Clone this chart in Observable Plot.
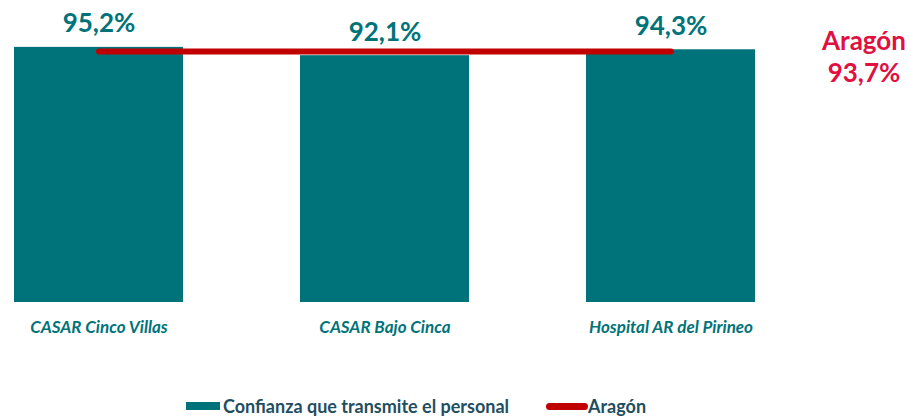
<!DOCTYPE html>
<html>
<head>
<meta charset="utf-8">
<script src="https://cdn.jsdelivr.net/npm/d3@7"></script>
<script src="https://cdn.jsdelivr.net/npm/@observablehq/plot@0.6"></script>
<style>
  html, body { margin: 0; padding: 0; background: #fff; }
  #wrap { width: 911px; height: 419px; position: relative; font-family: Lato, "Open Sans", sans-serif; }
  #legend { position: absolute; left: 186px; top: 395px; display: flex; align-items: center; font-weight: bold; font-size: 18px; color: #1f4e5f; white-space: nowrap; }
  .sw { display: inline-block; }
</style>
</head>
<body>
<div id="wrap"></div>
<script>
const categories = ["CASAR Cinco Villas", "CASAR Bajo Cinca", "Hospital AR del Pirineo"];
const values = [95.2, 92.1, 94.3];
const labels = ["95,2%", "92,1%", "94,3%"];
const aragonValue = 93.7;
const aragonLabel = "Aragón\n93,7%";
const seriesNames = ["Confianza que transmite el personal", "Aragón"];

const teal = "#00737a";
const red = "#c00000";
const crimson = "#e0103f";

const data = categories.map((c, i) => ({cat: c, v: values[i], label: labels[i]}));
const lineData = categories.map(c => ({cat: c, v: aragonValue}));

const H = 392;
const chart = Plot.plot({
  width: 911,
  height: H,
  marginLeft: 0,
  marginRight: 142,
  marginTop: 34,
  marginBottom: H - 302,
  style: {fontFamily: "Lato, 'Open Sans', sans-serif", background: "white"},
  x: {domain: categories, paddingInner: 0.41, paddingOuter: 0.045, label: null},
  y: {domain: [0, 100], axis: null},
  marks: [
    Plot.barY(data, {x: "cat", y: "v", fill: teal}),
    Plot.line(lineData, {x: "cat", y: "v", stroke: red, strokeWidth: 6, strokeLinecap: "round"}),
    Plot.text(data, {x: "cat", y: "v", text: "label", lineAnchor: "bottom", dy: -15, fill: teal, fontSize: 26, fontWeight: "bold"}),
    Plot.text([aragonValue], {x: () => categories[categories.length - 1], y: d => d, text: () => aragonLabel, lineAnchor: "bottom", dx: 193, dy: 31, lineHeight: 1.23, fill: crimson, fontSize: 26, fontWeight: "bold"}),
    Plot.axisX({tickSize: 0, tickPadding: 18, fontSize: 17, fontStyle: "italic", fontWeight: "bold", fill: teal, label: null})
  ]
});
const wrap = document.getElementById("wrap");
wrap.appendChild(chart);

const legend = document.createElement("div");
legend.id = "legend";
legend.innerHTML =
  `<span class="sw" style="width:34px;height:8px;background:${teal};margin-right:3px"></span>` +
  `<span>${seriesNames[0]}</span>` +
  `<span class="sw" style="width:42px;height:7px;background:${red};border-radius:4px;margin-left:37px;margin-right:0px"></span>` +
  `<span>${seriesNames[1]}</span>`;
wrap.appendChild(legend);
</script>
</body>
</html>
